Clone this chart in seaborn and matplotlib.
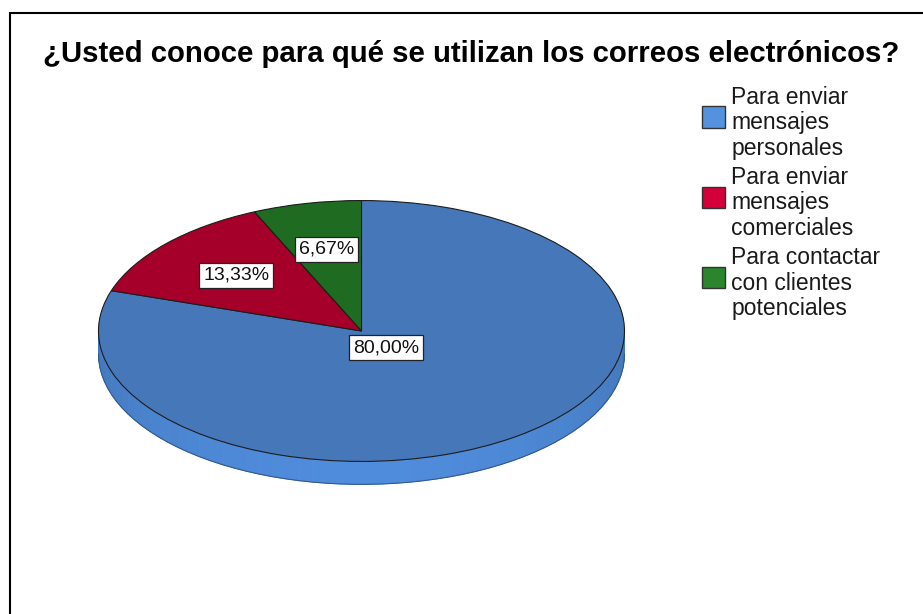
import matplotlib
matplotlib.use("Agg")
import matplotlib.pyplot as plt
from matplotlib.patches import Patch, Rectangle
from matplotlib.legend_handler import HandlerPatch
import matplotlib.colors as mcolors
import seaborn as sns
import numpy as np

# datos
categorias = ["Para enviar\nmensajes\npersonales",
              "Para enviar\nmensajes\ncomerciales",
              "Para contactar\ncon clientes\npotenciales"]
porcentajes = [80.00, 13.33, 6.67]
titulo = "¿Usted conoce para qué se utilizan los correos electrónicos?"

# colores: cara superior (con sombra), lado y leyenda
colores_pie = ["#4577b9", "#a5002a", "#1f6b21"]
colores_leyenda = ["#5492e0", "#d4003a", "#2a852c"]
colores_lado = ["#4f8cdb", "#c00030", "#267d28"]

sns.set_theme(style="white")
plt.rcParams['font.family'] = ['Liberation Sans', 'DejaVu Sans']

fig = plt.figure(figsize=(9.23, 6.14), dpi=100)
ax = fig.add_axes([0.1067, 0.1954, 0.5699, 0.4886])

wedges, texts, autotexts = ax.pie(
    porcentajes, colors=colores_pie, startangle=90, counterclock=False,
    autopct=lambda p: f"{p:.2f}%".replace(".", ","), pctdistance=0.64,
    wedgeprops=dict(edgecolor="#1c1c1c", linewidth=0.8),
    textprops=dict(fontsize=14, color="#111111"))

ax.set_aspect("auto")
ax.set_xlim(-1, 1)
ax.set_ylim(-1.25, 1.05)
ax.axis("off")

# grosor del "3D": solo la mitad frontal (angulos -180..0)
depth = 0.176
for w, c in zip(wedges, colores_lado):
    for base in (-360, 0):
        lo = max(w.theta1 - base, -180)
        hi = min(w.theta2 - base, 0)
        if hi <= lo:
            continue
        ts = np.linspace(lo, hi, 60)
        rgb = np.array(mcolors.to_rgb(c))
        for i in range(len(ts) - 1):
            ta, tb = np.radians(ts[i]), np.radians(ts[i + 1])
            shade = np.clip(rgb * (0.84 + 0.16 * (-np.sin((ta + tb) / 2))), 0, 1)
            xs = [np.cos(ta), np.cos(tb), np.cos(tb), np.cos(ta)]
            ys = [np.sin(ta), np.sin(tb), np.sin(tb) - depth, np.sin(ta) - depth]
            ax.fill(xs, ys, color=shade, lw=0.6, ec=shade, zorder=0)
        tt = np.radians(ts)
        ax.plot(np.cos(tt), np.sin(tt) - depth, color="#34598c", lw=0.8, zorder=0.5)

# etiquetas: la porción grande se coloca cerca del centro
for w, t in zip(wedges, autotexts):
    mid = np.radians((w.theta1 + w.theta2) / 2)
    r = 0.16 if (w.theta2 - w.theta1) > 180 else 0.64
    t.set_position((r * np.cos(mid), r * np.sin(mid)))
    t.set_bbox(dict(boxstyle="square,pad=0.2", fc="white", ec="#222222", lw=0.9))
    t.set_zorder(5)

fig.text(0.511, 0.899, titulo, ha="center", va="baseline",
         fontsize=21.2, fontweight="bold", color="black")


def cuadro(legend, orig_handle, xdescent, ydescent, width, height, fontsize):
    # cuadro algo más arriba, centrado en la etiqueta
    return Rectangle((-xdescent, -ydescent + 5.0), width, height)


handles = [Patch(facecolor=c, edgecolor="#333333", linewidth=1.0)
           for c in colores_leyenda]
leg = fig.legend(handles, categorias, loc="upper left",
                 bbox_to_anchor=(0.7606, 1 - 86 / 614), frameon=False,
                 fontsize=16.5, handlelength=1.0, handleheight=1.05,
                 handletextpad=0.28, labelspacing=0.28, borderpad=0,
                 borderaxespad=0, labelcolor="#1a1a1a",
                 handler_map={Patch: HandlerPatch(patch_func=cuadro)})
for t in leg.get_texts():
    t.set_linespacing(1.13)

# marco
fig.patches.append(Rectangle((10 / 923, -0.1), 1.2, 1.1 - 13.5 / 614,
                             transform=fig.transFigure, fill=False,
                             ec="black", lw=1.5))

plt.savefig("out.png", dpi=100)
